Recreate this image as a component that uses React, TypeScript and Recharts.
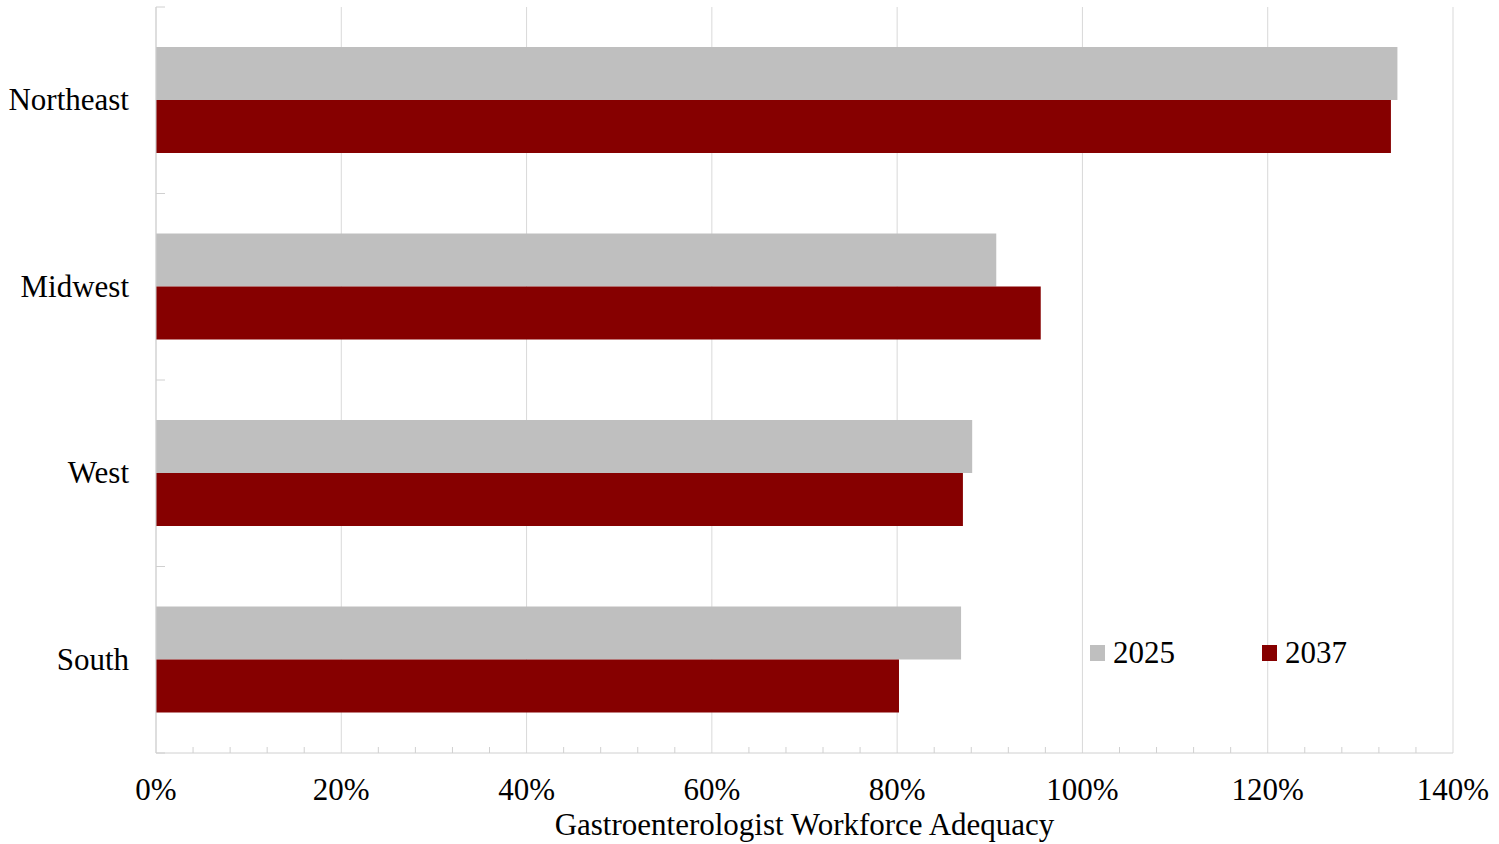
import React from 'react';
import { BarChart, Bar, XAxis, YAxis, CartesianGrid, Legend } from 'recharts';

const regions = ['Northeast', 'Midwest', 'West', 'South'];
const adequacy2025 = [134.0, 90.7, 88.1, 86.9];
const adequacy2037 = [133.3, 95.5, 87.1, 80.2];
const seriesNames = ['2025', '2037'];
const seriesKeys = ['y2025', 'y2037'];
const seriesColors = ['#BFBFBF', '#860000'];
const majorTicks = [0, 20, 40, 60, 80, 100, 120, 140];
const minorTicks = [
  4, 8, 12, 16, 24, 28, 32, 36, 44, 48, 52, 56, 64, 68, 72, 76,
  84, 88, 92, 96, 104, 108, 112, 116, 124, 128, 132, 136,
];
const xTitle = 'Gastroenterologist Workforce Adequacy';

const data = regions.map((r, i) => ({
  region: r,
  y2025: adequacy2025[i],
  y2037: adequacy2037[i],
}));
const allTicks = [...majorTicks, ...minorTicks].sort((a, b) => a - b);

const FONT = '"Liberation Serif", "Times New Roman", serif';
const FS = 31;
const AXIS = '#D0D0D0';
const GRID = '#D9D9D9';

const XTick = (props: any) => {
  const { x, y, payload } = props;
  const v = payload.value;
  if (majorTicks.includes(v)) {
    return (
      <text x={x} y={y + 47} textAnchor="middle" fontFamily={FONT} fontSize={FS} fill="#000">
        {`${v}%`}
      </text>
    );
  }
  return <line x1={x} x2={x} y1={y} y2={y - 6} stroke={AXIS} strokeWidth={1} />;
};

const YTick = (props: any) => {
  const { x, y, payload, index, visibleTicksCount } = props;
  const half = payload && payload.offset ? payload.offset : 93.25;
  const isLast = index === (visibleTicksCount ?? regions.length) - 1;
  return (
    <g>
      <text x={x - 27} y={y + 10} textAnchor="end" fontFamily={FONT} fontSize={FS} fill="#000">
        {payload.value}
      </text>
      <line x1={x} x2={x + 9} y1={y - half} y2={y - half} stroke={AXIS} strokeWidth={1} />
      {isLast ? <line x1={x} x2={x + 9} y1={y + half} y2={y + half} stroke={AXIS} strokeWidth={1} /> : null}
    </g>
  );
};

const renderLegend = () => (
  <div style={{ display: 'flex', flexDirection: 'row', fontFamily: FONT, fontSize: FS, lineHeight: '36px', color: '#000' }}>
    {seriesNames.map((n, i) => (
      <div key={n} style={{ display: 'flex', alignItems: 'center', width: 172, fontFamily: FONT }}>
        <span style={{ display: 'inline-block', width: 15, height: 16, background: seriesColors[i], marginRight: 8 }} />
        <span style={{ fontFamily: FONT, fontSize: FS }}>{n}</span>
      </div>
    ))}
  </div>
);

export default function App() {
  return (
    <div style={{ position: 'absolute', left: 0, top: 0, width: 1499, height: 844, background: '#fff' }}>
      <BarChart
        width={1499}
        height={844}
        data={data}
        layout="vertical"
        margin={{ top: 7, right: 46, left: 0, bottom: 0 }}
        barCategoryGap="21.4%"
        barGap={0}
      >
        <CartesianGrid horizontal={false} vertical={true} verticalValues={majorTicks} stroke={GRID} strokeWidth={1} syncWithTicks={false} />
        <XAxis
          type="number"
          domain={[0, 140]}
          ticks={allTicks}
          interval={0}
          tickLine={false}
          tickSize={0}
          tickMargin={0}
          axisLine={{ stroke: AXIS }}
          height={91}
          tick={<XTick />}
          allowDataOverflow
          label={{ value: xTitle, position: 'insideBottom', offset: 9, fontSize: FS, fontFamily: FONT, fill: '#000' }}
        />
        <YAxis
          type="category"
          dataKey="region"
          width={156}
          tickLine={false}
          tickSize={0}
          tickMargin={0}
          interval={0}
          axisLine={{ stroke: AXIS }}
          tick={<YTick />}
        />
        <Legend
          verticalAlign="middle"
          layout="horizontal"
          content={renderLegend}
          wrapperStyle={{ left: 1090, top: 635, width: 360, height: 36 }}
        />
        {seriesKeys.map((k, i) => (
          <Bar key={k} dataKey={k} name={seriesNames[i]} fill={seriesColors[i]} isAnimationActive={false} />
        ))}
      </BarChart>
    </div>
  );
}
